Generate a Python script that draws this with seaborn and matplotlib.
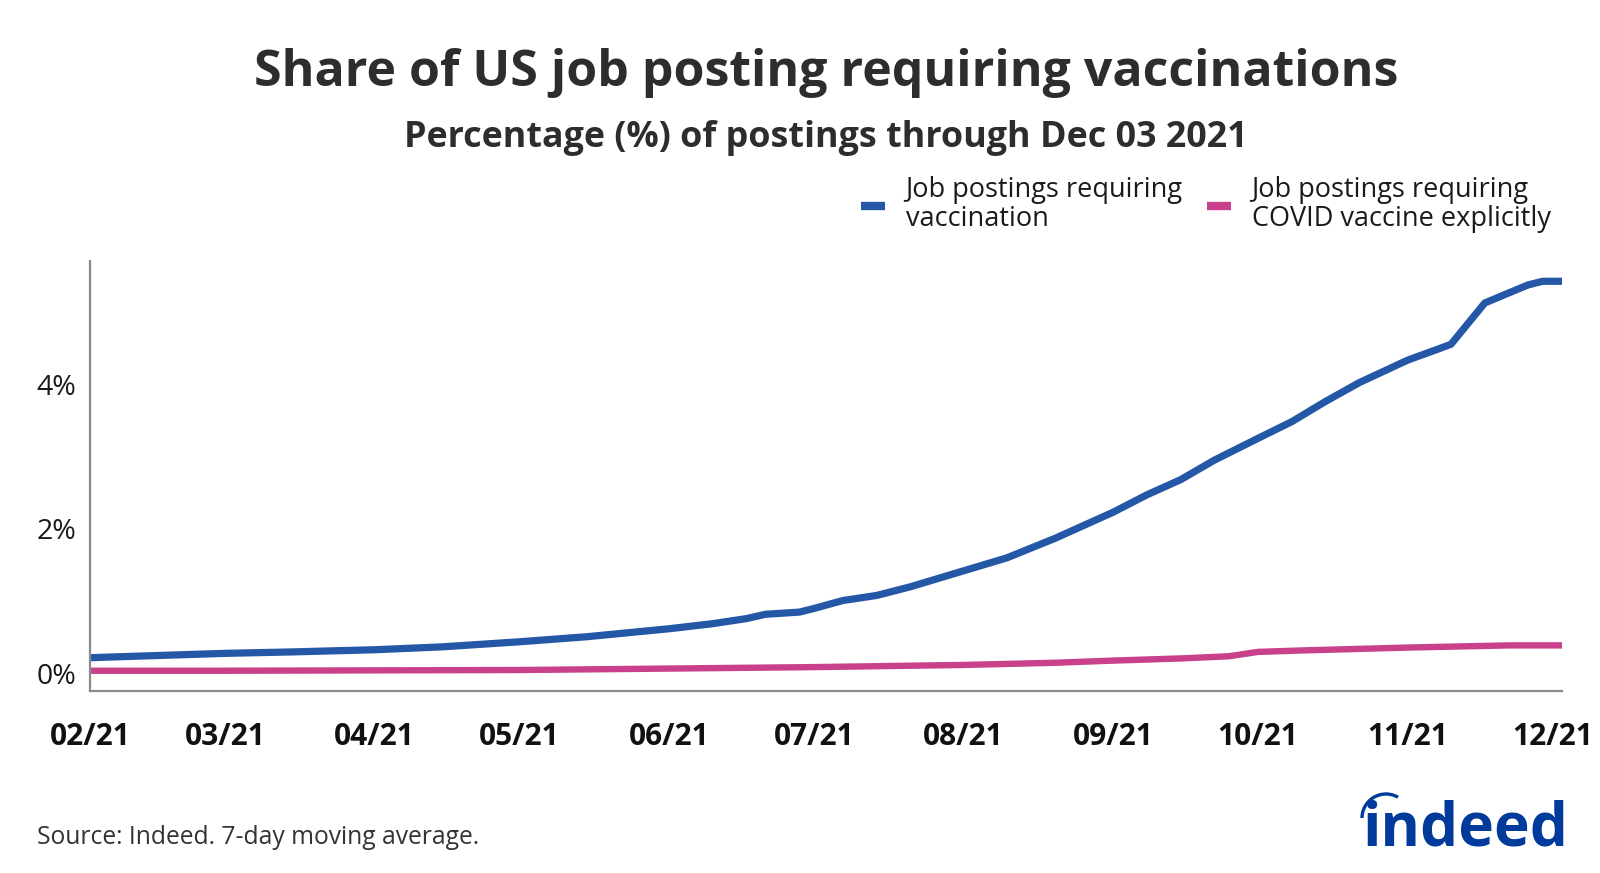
import matplotlib
matplotlib.use("Agg")
import matplotlib.pyplot as plt
import matplotlib.dates as mdates
from matplotlib.patches import Arc
from matplotlib.lines import Line2D
import seaborn as sns
import pandas as pd

# ---- data ----
blue_dates = ["2021-02-01", "2021-02-15", "2021-03-01", "2021-03-15", "2021-04-01",
              "2021-04-15", "2021-05-01", "2021-05-15", "2021-06-01", "2021-06-10",
              "2021-06-17", "2021-06-21", "2021-06-28", "2021-07-01", "2021-07-07",
              "2021-07-14", "2021-07-21", "2021-08-01", "2021-08-10", "2021-08-20",
              "2021-08-27", "2021-09-01", "2021-09-08", "2021-09-15", "2021-09-22",
              "2021-10-01", "2021-10-08", "2021-10-15", "2021-10-22", "2021-11-01",
              "2021-11-08", "2021-11-10", "2021-11-17", "2021-11-22", "2021-11-26",
              "2021-11-29", "2021-12-03"]
blue_values = [0.22, 0.25, 0.28, 0.30, 0.33,
               0.37, 0.44, 0.51, 0.62, 0.69,
               0.76, 0.82, 0.85, 0.90, 1.01,
               1.08, 1.20, 1.42, 1.60, 1.87,
               2.08, 2.23, 2.47, 2.68, 2.95,
               3.25, 3.48, 3.76, 4.02, 4.33,
               4.50, 4.55, 5.12, 5.26, 5.37,
               5.42, 5.42]

pink_dates = ["2021-02-01", "2021-03-01", "2021-04-01", "2021-05-01", "2021-06-01",
              "2021-07-01", "2021-08-01", "2021-08-20", "2021-09-01", "2021-09-15",
              "2021-09-25", "2021-10-01", "2021-10-10", "2021-11-01", "2021-11-15",
              "2021-11-22", "2021-12-03"]
pink_values = [0.04, 0.04, 0.045, 0.05, 0.07,
               0.09, 0.12, 0.15, 0.18, 0.21,
               0.24, 0.30, 0.32, 0.36, 0.38,
               0.39, 0.39]

series_labels = ["Job postings requiring\nvaccination",
                 "Job postings requiring\nCOVID vaccine explicitly"]
month_ticks = ["2021-02-01", "2021-03-01", "2021-04-01", "2021-05-01", "2021-06-01",
               "2021-07-01", "2021-08-01", "2021-09-01", "2021-10-01", "2021-11-01",
               "2021-12-01"]
y_ticks = [0, 2, 4]

BLUE = "#2557A7"
PINK = "#C8418A"
LOGO = "#003A9B"

sns.set_style("white")
plt.rcParams["font.family"] = ["Open Sans", "DejaVu Sans"]

W, H = 1600, 873
fig = plt.figure(figsize=(W / 100, H / 100), dpi=100)
ax = fig.add_axes([90 / W, 1 - 691 / H, (1562 - 90) / W, (691 - 261) / H])

df_b = pd.DataFrame({"date": pd.to_datetime(blue_dates), "value": blue_values})
df_p = pd.DataFrame({"date": pd.to_datetime(pink_dates), "value": pink_values})

sns.lineplot(data=df_p, x="date", y="value", ax=ax, color=PINK, linewidth=4.6,
             legend=False)
sns.lineplot(data=df_b, x="date", y="value", ax=ax, color=BLUE, linewidth=5.2,
             legend=False)

ax.set_xlim(pd.Timestamp("2021-02-01"), pd.Timestamp("2021-12-03"))
ax.set_ylim(-0.24, 5.70)
ax.set_xlabel("")
ax.set_ylabel("")

ax.set_xticks(pd.to_datetime(month_ticks))
ax.xaxis.set_major_formatter(mdates.DateFormatter("%m/%y"))
ax.set_yticks(y_ticks)
ax.set_yticklabels([f"{v}%" for v in y_ticks])

ax.tick_params(axis="x", length=0, pad=22, labelsize=21.5, labelcolor="#111111")
ax.tick_params(axis="y", length=0, pad=10, labelsize=20.5, labelcolor="#1a1a1a")
for lbl in ax.get_xticklabels():
    lbl.set_fontweight("bold")

for s in ["top", "right"]:
    ax.spines[s].set_visible(False)
for s in ["left", "bottom"]:
    ax.spines[s].set_color("#8a8a8a")
    ax.spines[s].set_linewidth(1.6)
ax.grid(False)

# titles
cx = 826 / W
fig.text(cx, 1 - 86 / H, "Share of US job posting requiring vaccinations",
         ha="center", va="baseline", fontsize=36, fontweight="bold", color="#2d2d2d")
fig.text(cx, 1 - 147 / H, "Percentage (%) of postings through Dec 03 2021",
         ha="center", va="baseline", fontsize=25.8, fontweight="bold", color="#2d2d2d")

# legend
handles = [Line2D([0], [0], color=BLUE, linewidth=6, solid_capstyle="butt"),
           Line2D([0], [0], color=PINK, linewidth=6, solid_capstyle="butt")]
leg = fig.legend(handles, series_labels, loc="upper right",
                 bbox_to_anchor=(1575 / W, 1 - 152 / H), ncol=2, frameon=False,
                 fontsize=19.5, handlelength=0.9, handletextpad=0.75,
                 columnspacing=0.9, labelspacing=0.2, labelcolor="#1a1a1a")
for t in leg.get_texts():
    t.set_linespacing(1.02)

# source
fig.text(37 / W, 1 - 838 / H, "Source: Indeed. 7-day moving average.",
         ha="left", va="center", fontsize=17.7, color="#333333")

# indeed logo
fig.text(1569 / W, 1 - 845 / H, "indeed", ha="right", va="baseline",
         fontsize=43.5, fontweight="bold", color=LOGO,
         family=["Open Sans", "DejaVu Sans"])
arc = Arc((1386, H - 818), 48, 48, angle=0, theta1=60, theta2=180,
          transform=None, color=LOGO, linewidth=2.4)
fig.add_artist(arc)

fig.savefig("out.png", dpi=100)
